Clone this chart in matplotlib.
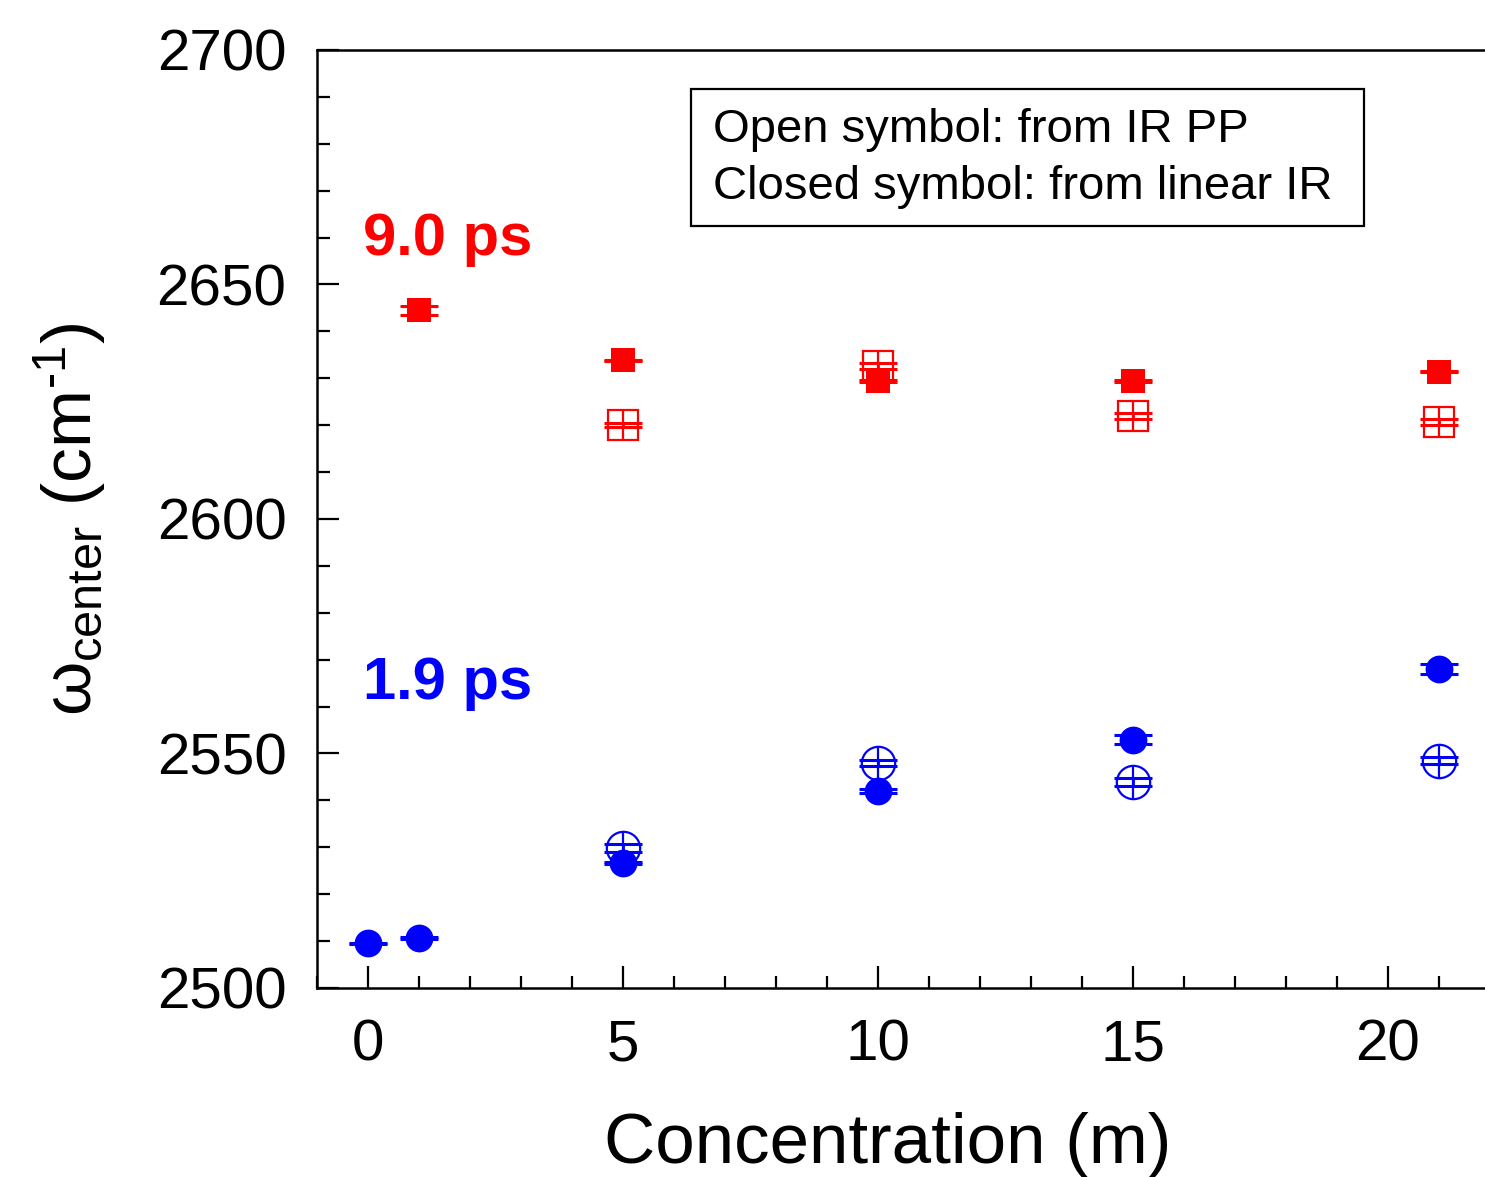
import matplotlib
matplotlib.use("Agg")
import matplotlib.pyplot as plt
from matplotlib.patches import Rectangle

plt.rcParams['font.family'] = ['Liberation Sans', 'DejaVu Sans']
plt.rcParams['mathtext.fontset'] = 'custom'
plt.rcParams['mathtext.rm'] = 'Liberation Sans'
plt.rcParams['mathtext.it'] = 'Liberation Sans'
plt.rcParams['mathtext.bf'] = 'Liberation Sans:bold'

# data
red_closed_x = [1, 5, 10, 15, 21]
red_closed_y = [2644.5, 2633.8, 2629.4, 2629.4, 2631.4]
red_closed_err = [1.0, 0.15, 0.15, 0.15, 0.15]
red_open_x = [5, 10, 15, 21]
red_open_y = [2620.1, 2632.6, 2622.0, 2620.7]
red_open_err = [0.45, 0.57, 0.64, 0.6]
blue_closed_x = [0, 1, 5, 10, 15, 21]
blue_closed_y = [2509.5, 2510.7, 2526.7, 2542.0, 2552.9, 2568.0]
blue_closed_err = [0.15, 0.15, 0.2, 0.4, 0.96, 1.1]
blue_open_x = [5, 10, 15, 21]
blue_open_y = [2529.9, 2548.0, 2543.9, 2548.5]
blue_open_err = [0.8, 0.6, 0.78, 0.8]

W, H = 1485, 1177
fig = plt.figure(figsize=(W / 100, H / 100), dpi=100)
x0, x1 = 317, 317 + 51 * 23
y0, y1 = 50, 988
ax = fig.add_axes([x0 / W, 1 - y1 / H, (x1 - x0) / W, (y1 - y0) / H])
ax.set_xlim(-1, 22)
ax.set_ylim(2500, 2700)

cap = 14
def draw(x, y, e, color, marker, ms, filled):
    ax.errorbar(x, y, yerr=e, fmt='none', ecolor=color, elinewidth=2,
                capsize=cap, capthick=2.2, zorder=3)
    if filled:
        ax.plot(x, y, linestyle='none', marker=marker, ms=ms, mfc=color,
                mec=color, mew=0, zorder=4)
    else:
        ax.plot(x, y, linestyle='none', marker=marker, ms=ms, mfc='none',
                mec=color, mew=1.6, zorder=4)
        ax.plot(x, y, linestyle='none', marker='|', ms=ms, mec=color,
                mew=1.6, zorder=4)

draw(red_closed_x, red_closed_y, red_closed_err, '#ff0000', 's', 17, True)
draw(red_open_x, red_open_y, red_open_err, '#ff0000', 's', 21, False)
draw(blue_closed_x, blue_closed_y, blue_closed_err, '#0000ff', 'o', 20, True)
draw(blue_open_x, blue_open_y, blue_open_err, '#0000ff', 'o', 24, False)

ax.set_xticks([0, 5, 10, 15, 20])
ax.set_xticks(range(-1, 23), minor=True)
ax.set_yticks([2500, 2550, 2600, 2650, 2700])
ax.set_yticks(range(2500, 2701, 10), minor=True)
ax.tick_params(axis='both', which='both', direction='in', width=1.6,
               labelsize=42, top=False, right=False)
ax.tick_params(axis='both', which='major', length=16, pad=22)
ax.tick_params(axis='both', which='minor', length=9)
for s in ax.spines.values():
    s.set_linewidth(1.8)

fig.text(888 / W, 1 - 1145 / H, 'Concentration (m)', fontsize=51,
         ha='center', va='center')
fig.text(70 / W, 1 - 520 / H, r'$\omega_{\mathrm{center}}$ (cm$^{\text{-1}}$)',
         fontsize=50, rotation=90, ha='center', va='center')

ax.text(-0.1, 2659.5, '9.0 ps', color='#ff0000', fontsize=43,
        fontweight='bold', ha='left', va='center')
ax.text(-0.1, 2565.0, '1.9 ps', color='#0000ff', fontsize=43,
        fontweight='bold', ha='left', va='center')

fig.patches.append(Rectangle((691 / W, 1 - 226 / H), (1364 - 691) / W,
                             (226 - 89) / H, transform=fig.transFigure,
                             fill=False, edgecolor='black', linewidth=1.6))
fig.text(713 / W, 1 - 130 / H, 'Open symbol: from IR PP', fontsize=34,
         ha='left', va='center')
fig.text(713 / W, 1 - 187 / H, 'Closed symbol: from linear IR', fontsize=34,
         ha='left', va='center')

fig.savefig('out.png', dpi=100)
